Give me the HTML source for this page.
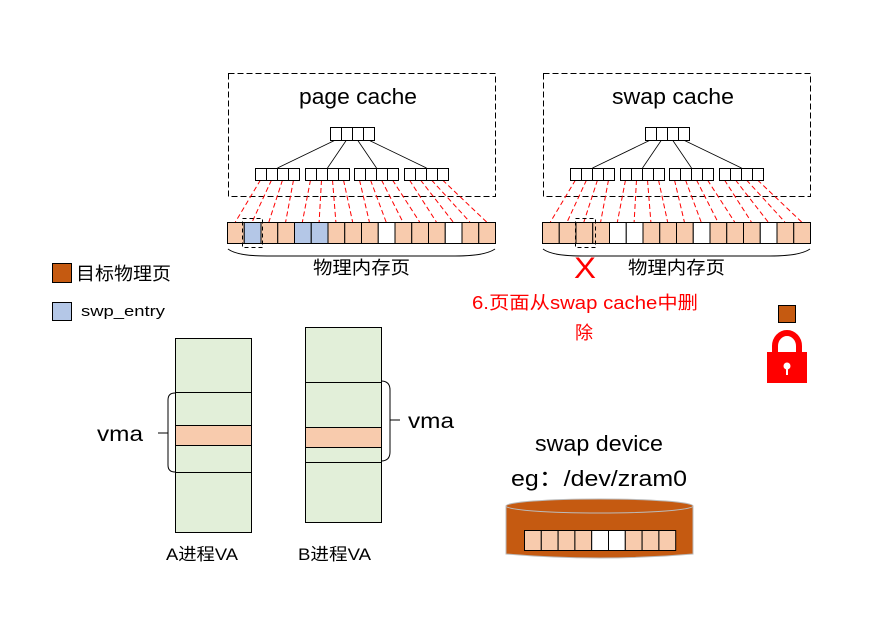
<!DOCTYPE html>
<html><head><meta charset="utf-8"><style>
body{margin:0;background:#fff;width:884px;height:619px;overflow:hidden}
svg{display:block}
text{font-family:"Liberation Sans","Noto Sans CJK SC",sans-serif}
</style></head><body>
<svg id="s" width="884" height="619" xmlns="http://www.w3.org/2000/svg">
<rect x="228.5" y="73.5" width="267" height="123" fill="none" stroke="#000" stroke-dasharray="6,3"/>
<rect x="543.5" y="73.5" width="267" height="123" fill="none" stroke="#000" stroke-dasharray="6,3"/>
<text x="299" y="104" font-size="22" textLength="118" lengthAdjust="spacingAndGlyphs">page cache</text>
<text x="612" y="104" font-size="22" textLength="122" lengthAdjust="spacingAndGlyphs">swap cache</text>
<g id="g"></g>
<text x="313" y="274" font-size="18" textLength="97" lengthAdjust="spacingAndGlyphs">物理内存页</text>
<text x="628" y="274" font-size="18" textLength="97" lengthAdjust="spacingAndGlyphs">物理内存页</text>
<text x="574" y="278" font-size="30" fill="#f00" textLength="22" lengthAdjust="spacingAndGlyphs">X</text>
<rect x="52.5" y="263.5" width="19" height="19" fill="#c55a11" stroke="#000"/>
<text x="76" y="280" font-size="18" textLength="95" lengthAdjust="spacingAndGlyphs">目标物理页</text>
<rect x="52.5" y="302.5" width="19" height="18" fill="#b4c7e7" stroke="#000"/>
<text x="81" y="316" font-size="15" textLength="84" lengthAdjust="spacingAndGlyphs">swp_entry</text>
<text x="472" y="309" font-size="18" fill="#f00" textLength="226" lengthAdjust="spacingAndGlyphs">6.页面从swap cache中删</text>
<text x="575" y="339" font-size="18" fill="#f00">除</text>
<rect x="175.5" y="338.5" width="76" height="194" fill="#e2efd9" stroke="#000"/>
<rect x="175.5" y="425.5" width="76" height="20" fill="#f8cbad" stroke="#000"/>
<line x1="175" y1="392.5" x2="251" y2="392.5" stroke="#000"/>
<line x1="175" y1="472.5" x2="251" y2="472.5" stroke="#000"/>
<rect x="305.5" y="327.5" width="76" height="195" fill="#e2efd9" stroke="#000"/>
<rect x="305.5" y="427.5" width="76" height="20" fill="#f8cbad" stroke="#000"/>
<line x1="305" y1="382.5" x2="381" y2="382.5" stroke="#000"/>
<line x1="305" y1="462.5" x2="381" y2="462.5" stroke="#000"/>
<path d="M175,393 Q168,393 168,400 L168,465 Q168,472 175,472" fill="none" stroke="#000"/>
<line x1="158" y1="433" x2="168" y2="433" stroke="#000"/>
<path d="M381,381 Q390,381 390,390 L390,452 Q390,461 381,461" fill="none" stroke="#000"/>
<line x1="390" y1="420" x2="400" y2="420" stroke="#000"/>
<text x="97" y="441" font-size="21" textLength="46" lengthAdjust="spacingAndGlyphs">vma</text>
<text x="408" y="428" font-size="21" textLength="46" lengthAdjust="spacingAndGlyphs">vma</text>
<text x="166" y="560" font-size="17" textLength="72" lengthAdjust="spacingAndGlyphs">A进程VA</text>
<text x="298" y="560" font-size="17" textLength="73" lengthAdjust="spacingAndGlyphs">B进程VA</text>
<text x="535" y="451" font-size="22" textLength="128" lengthAdjust="spacingAndGlyphs">swap device</text>
<text x="511" y="486" font-size="22" textLength="176" lengthAdjust="spacingAndGlyphs">eg：/dev/zram0</text>
<path d="M506,506 L506,554 Q600,562 693,554 L693,506 Z" fill="#c55a11" stroke="#bbb"/>
<ellipse cx="599.5" cy="506" rx="93.5" ry="7" fill="#c55a11" stroke="#bbb"/>
<g id="cyl"></g>
<rect x="778.5" y="305.5" width="17" height="17" fill="#c55a11" stroke="#000"/>
<path d="M775,353 L775,346 A12,13 0 0 1 799,346 L799,353" fill="none" stroke="#f00" stroke-width="6"/>
<rect x="767" y="352" width="40" height="31" fill="#f00"/>
<circle cx="787" cy="366" r="3.5" fill="#fff"/>
<rect x="786" y="366" width="2" height="9" fill="#fff"/>
</svg>
<script>
var ns="http://www.w3.org/2000/svg",g=document.getElementById('g');
function el(t,a,p){var e=document.createElementNS(ns,t);for(var k in a)e.setAttribute(k,a[k]);(p||g).appendChild(e);return e;}
var P="#f8cbad",B="#b4c7e7",W="#fff";
var cols=[[P,B,P,P,B,B,P,P,P,W,P,P,P,W,P,P],[P,P,P,P,W,W,P,P,P,W,P,P,P,W,P,P]];
[0,315].forEach(function(dx,i){
  var rx=330+dx;
  var gx=[255,305,354,404];
  gx.forEach(function(x,j){el('line',{x1:rx+5.5+j*11,y1:140,x2:x+dx+22.5,y2:168,stroke:'#000','stroke-width':0.8});});
  for(var k=0;k<4;k++)el('rect',{x:rx+k*11+.5,y:127.5,width:11,height:13,fill:'#fff',stroke:'#000'});
  var mx=227+dx,cw=268/16;
  var n=0;
  gx.forEach(function(x){for(var k=0;k<4;k++){var lx=x+dx+k*11;
    el('line',{x1:lx+5.5,y1:180,x2:mx+cw*n+cw/2,y2:222,stroke:'#f00','stroke-dasharray':'5,3'});
    el('rect',{x:lx+.5,y:168.5,width:11,height:12,fill:'#fff',stroke:'#000'});n++;}});
  for(var c=0;c<16;c++)el('rect',{x:mx+c*cw+.5,y:222.5,width:cw,height:21,fill:cols[i][c],stroke:'#000'});
  var sx=i==0?242:575;
  el('rect',{x:sx+.5,y:218.5,width:20,height:29,fill:'none',stroke:'#000','stroke-dasharray':'4,3'});
  el('path',{d:'M'+(mx+1)+',249 Q'+(mx+10)+',256 '+(mx+40)+',256 L'+(mx+228)+',256 Q'+(mx+258)+',256 '+(mx+268)+',249',fill:'none',stroke:'#000'});
});
var cy=document.getElementById('cyl');
var cc=[P,P,P,P,W,W,P,P,P];
for(var c=0;c<9;c++)el('rect',{x:524.5+c*16.8,y:530.5,width:16.8,height:20,fill:cc[c],stroke:'#000'},cy);
</script>
</body></html>
